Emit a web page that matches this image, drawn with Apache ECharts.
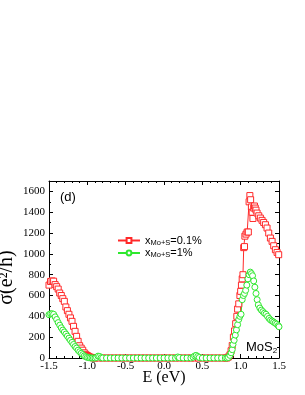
<!DOCTYPE html>
<html><head><meta charset="utf-8">
<script src="https://cdn.jsdelivr.net/npm/echarts@6/dist/echarts.min.js"></script>
<style>html,body{margin:0;padding:0;background:#fff}#c{width:305px;height:395px}</style>
</head><body><div id="c"></div>
<script>
// Red series: x_Mo+S = 0.1%
const redE = [-1.5,-1.48,-1.46,-1.44,-1.42,-1.40,-1.38,-1.36,-1.34,-1.32,-1.30,-1.28,-1.26,-1.24,-1.22,-1.20,-1.18,-1.16,-1.14,-1.12,-1.10,-1.08,-1.06,-1.04,-1.02,-1.00,-0.98,-0.96,-0.94,-0.92,
  -0.90,-0.85,-0.80,-0.75,-0.70,-0.65,-0.60,-0.55,-0.50,-0.45,-0.40,-0.35,-0.30,-0.25,-0.20,-0.15,-0.10,-0.05,0.00,0.05,0.10,0.15,0.20,0.25,0.30,0.35,0.40,0.45,0.50,0.55,0.60,0.65,0.70,0.75,0.80,
  0.82,0.84,0.86,0.875,0.89,0.905,0.92,0.935,0.95,0.96,0.975,0.99,1.00,1.01,1.02,1.03,1.04,1.05,1.055,1.07,1.085,1.10,1.11,1.12,1.13,1.14,1.15,1.16,1.17,1.18,1.19,1.20,1.214,1.236,1.257,1.279,1.30,1.323,1.344,1.366,1.388,1.41,1.431,1.453,1.475,1.496];
const redS = [700,735,740,738,705,685,662,624,600,570,544,490,455,420,385,352,304,256,208,160,118,95,75,50,35,24,15,8,4,1,
  0,0,0,0,0,0,0,0,0,0,0,0,0,0,0,0,0,0,0,0,0,0,0,0,0,0,0,0,0,0,0,0,0,0,0,
  0,10,30,70,120,200,260,330,400,470,520,600,640,700,760,800,1060,1070,1170,1190,1210,1210,1500,1560,1520,1450,1400,1340,1440,1460,1440,1420,1392,1366,1344,1322,1302,1280,1248,1200,1152,1120,1078,1040,1014,992];

// Green series: x_Mo+S = 1%
const greenE = [-1.5,-1.48,-1.46,-1.44,-1.42,-1.40,-1.38,-1.36,-1.34,-1.32,-1.30,-1.28,-1.26,-1.24,-1.22,-1.20,-1.18,-1.16,-1.14,-1.12,-1.10,-1.08,-1.06,-1.04,-1.02,-1.00,-0.98,-0.96,-0.94,-0.92,
  -0.90,-0.88,-0.86,-0.84,-0.82,-0.80,-0.75,-0.70,-0.65,-0.60,-0.55,-0.50,-0.45,-0.40,-0.35,-0.30,-0.25,-0.20,-0.15,-0.10,-0.05,0.00,0.05,0.10,0.15,0.18,0.20,0.25,0.30,0.35,0.38,0.40,0.42,0.44,0.46,0.50,0.55,0.60,0.65,0.70,0.75,0.80,
  0.82,0.84,0.86,0.875,0.89,0.90,0.915,0.93,0.945,0.96,0.975,0.99,1.005,1.02,1.035,1.05,1.065,1.08,1.095,1.11,1.125,1.14,1.155,1.17,1.185,1.20,1.215,1.23,1.25,1.27,1.29,1.31,1.33,1.35,1.37,1.39,1.41,1.43,1.45,1.47,1.49,1.50];
const greenS = [416,425,425,420,395,370,340,315,290,268,250,230,210,190,170,150,130,110,95,75,60,45,32,20,12,6,3,1,0,0,
  0,5,18,15,3,0,0,0,0,0,0,0,0,0,0,0,0,0,0,0,0,0,0,0,0,10,3,0,0,0,8,20,25,15,5,0,0,0,0,0,0,0,
  0,5,25,50,80,130,170,220,270,320,370,400,420,560,600,620,650,700,760,800,825,810,790,740,680,620,560,510,480,460,445,430,420,400,380,365,355,345,335,325,310,300];

const seriesNames = ['x_Mo+S=0.1%', 'x_Mo+S=1%'];
const xTicks = {min: -1.5, max: 1.5, interval: 0.5};
const yTicks = {min: 0, max: 1700, interval: 200};

const RED = '#ff2a2a', GREEN = '#2ee82e';
const serif = 'Liberation Serif', sans = 'Liberation Sans';

function zip(a, b) { return a.map((v, i) => [v, b[i]]); }

const chart = echarts.init(document.getElementById('c'), null, {renderer: 'canvas'});

const axisCommon = {
  type: 'value',
  splitLine: {show: false},
  axisLine: {show: true, onZero: false, lineStyle: {color: '#000', width: 1}},
  axisTick: {show: true, inside: true, length: 4, lineStyle: {color: '#000', width: 1}},
  minorTick: {show: true, length: 2, lineStyle: {color: '#000', width: 1}},
};

chart.setOption({
  animation: false,
  backgroundColor: '#fff',
  grid: {left: 49, right: 26, top: 181, bottom: 37, containLabel: false, outerBoundsMode: 'none'},
  title: [
    {text: '(d)', left: 55, top: 186, textStyle: {fontFamily: sans, fontSize: 13, fontWeight: 'normal', color: '#000'}},
    {text: '{a|MoS}{b|2}', left: 241, top: 334, textStyle: {fontFamily: sans, fontSize: 13, fontWeight: 'normal', color: '#000',
      rich: {a: {fontFamily: sans, fontSize: 13, color: '#000', lineHeight: 16}, b: {fontFamily: sans, fontSize: 8, color: '#000', lineHeight: 8, verticalAlign: 'bottom'}}}}
  ],
  legend: {
    orient: 'vertical', left: 112, top: 230,
    itemWidth: 22, itemHeight: 6, itemGap: 1,
    data: seriesNames,
    formatter: function (name) {
      const pct = name.split('=')[1];
      return '{x|x}{s|Mo+S}{x|=' + pct + '}';
    },
    textStyle: {
      color: '#000', fontFamily: sans, fontSize: 11, padding: [0, 0, 0, 0],
      rich: {
        x: {fontFamily: sans, fontSize: 11, color: '#000', lineHeight: 12},
        s: {fontFamily: sans, fontSize: 7.5, color: '#000', lineHeight: 7, verticalAlign: 'bottom'}
      }
    }
  },
  xAxis: [
    Object.assign({}, axisCommon, xTicks, {
      position: 'bottom',
      minorTick: Object.assign({}, axisCommon.minorTick, {splitNumber: 5}),
      axisLabel: {color: '#000', fontFamily: serif, fontSize: 11, margin: 3, formatter: v => v.toFixed(1)},
      name: 'E (eV)', nameLocation: 'middle', nameGap: 12, nameMoveOverlap: false,
      nameTextStyle: {color: '#000', fontFamily: serif, fontSize: 16}
    }),
    Object.assign({}, axisCommon, xTicks, {
      position: 'top',
      minorTick: Object.assign({}, axisCommon.minorTick, {splitNumber: 5}),
      axisLabel: {show: false}
    })
  ],
  yAxis: [
    Object.assign({}, axisCommon, yTicks, {
      position: 'left',
      minorTick: Object.assign({}, axisCommon.minorTick, {splitNumber: 2}),
      axisLabel: {color: '#000', fontFamily: serif, fontSize: 11, margin: 4, showMaxLabel: false,
        formatter: v => (v % 200 === 0 ? String(v) : '')},
      name: 'σ(e²/h)', nameLocation: 'middle', nameGap: 32, nameMoveOverlap: false,
      nameTextStyle: {color: '#000', fontFamily: serif, fontSize: 20, padding: [0, 16, 0, 0]}
    }),
    Object.assign({}, axisCommon, yTicks, {
      position: 'right',
      minorTick: Object.assign({}, axisCommon.minorTick, {splitNumber: 2}),
      axisLabel: {show: false}
    })
  ],
  series: [
    {
      name: seriesNames[0], type: 'line', xAxisIndex: 0, yAxisIndex: 0,
      data: zip(redE, redS),
      symbol: 'rect', symbolSize: 6, showAllSymbol: true,
      color: RED,
      lineStyle: {color: RED, width: 1},
      itemStyle: {color: '#fff', borderColor: RED, borderWidth: 1},
      emphasis: {disabled: true}
    },
    {
      name: seriesNames[1], type: 'line', xAxisIndex: 0, yAxisIndex: 0,
      data: zip(greenE, greenS),
      symbol: 'circle', symbolSize: 6, showAllSymbol: true,
      color: GREEN,
      lineStyle: {color: GREEN, width: 1},
      itemStyle: {color: '#fff', borderColor: GREEN, borderWidth: 1},
      emphasis: {disabled: true}
    }
  ]
});
</script>
</body></html>
